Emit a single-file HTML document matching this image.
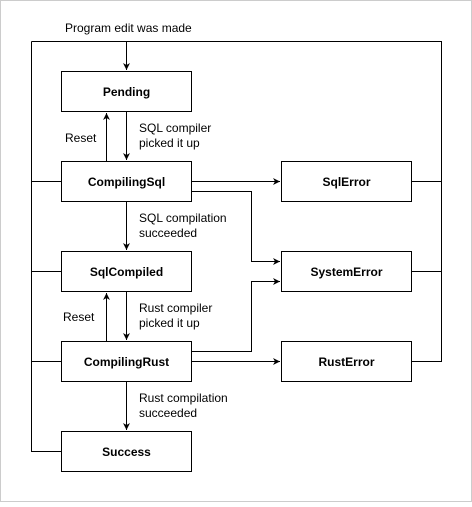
<!DOCTYPE html>
<html><head><style>body{margin:0;background:#fff}</style></head><body>
<svg width="472" height="502" xmlns="http://www.w3.org/2000/svg" font-family="Liberation Sans, sans-serif" font-size="12">
<defs><marker id="a" markerWidth="8" markerHeight="8" refX="7" refY="4" orient="auto" markerUnits="userSpaceOnUse"><path d="M0,0.5 L7,4 L0,7.5 L2,4 z" fill="#000"/></marker></defs>
<rect x="0.5" y="0.5" width="471" height="501" fill="#fff" stroke="#ccc"/>
<g fill="none" stroke="#000">
<path d="M31.5,41.5 H441.5 V361.5 H411.5 M441.5,271.5 H411.5 M441.5,181.5 H411.5"/>
<path d="M31.5,41.5 V451.5 H61.5 M31.5,181.5 H61.5 M31.5,271.5 H61.5 M31.5,361.5 H61.5"/>
<path d="M126.5,41.5 V70" marker-end="url(#a)"/>
<path d="M126.5,111.5 V160" marker-end="url(#a)"/>
<path d="M106.5,161.5 V113" marker-end="url(#a)"/>
<path d="M126.5,201.5 V250" marker-end="url(#a)"/>
<path d="M126.5,291.5 V340" marker-end="url(#a)"/>
<path d="M106.5,341.5 V293" marker-end="url(#a)"/>
<path d="M126.5,381.5 V430" marker-end="url(#a)"/>
<path d="M191.5,181.5 H280" marker-end="url(#a)"/>
<path d="M191.5,191.5 H251.5 V261.5 H280" marker-end="url(#a)"/>
<path d="M191.5,351.5 H251.5 V281.5 H280" marker-end="url(#a)"/>
<path d="M191.5,361.5 H280" marker-end="url(#a)"/>
</g>
<g fill="#fff" stroke="#000">
<rect x="61.5" y="71.5" width="130" height="40"/>
<rect x="61.5" y="161.5" width="130" height="40"/>
<rect x="61.5" y="251.5" width="130" height="40"/>
<rect x="61.5" y="341.5" width="130" height="40"/>
<rect x="61.5" y="431.5" width="130" height="40"/>
<rect x="281.5" y="161.5" width="130" height="40"/>
<rect x="281.5" y="251.5" width="130" height="40"/>
<rect x="281.5" y="341.5" width="130" height="40"/>
</g>
<g font-weight="bold" text-anchor="middle">
<text x="126.5" y="96">Pending</text>
<text x="126.5" y="186">CompilingSql</text>
<text x="126.5" y="276">SqlCompiled</text>
<text x="126.5" y="366">CompilingRust</text>
<text x="126.5" y="456">Success</text>
<text x="346.5" y="186">SqlError</text>
<text x="346.5" y="276">SystemError</text>
<text x="346.5" y="366">RustError</text>
</g>
<text x="65" y="32">Program edit was made</text>
<text x="65" y="142">Reset</text>
<text x="63" y="321">Reset</text>
<text x="139" y="132">SQL compiler</text><text x="139" y="147">picked it up</text>
<text x="139" y="222">SQL compilation</text><text x="139" y="237">succeeded</text>
<text x="139" y="312">Rust compiler</text><text x="139" y="327">picked it up</text>
<text x="139" y="402">Rust compilation</text><text x="139" y="417">succeeded</text>
</svg>
</body></html>
